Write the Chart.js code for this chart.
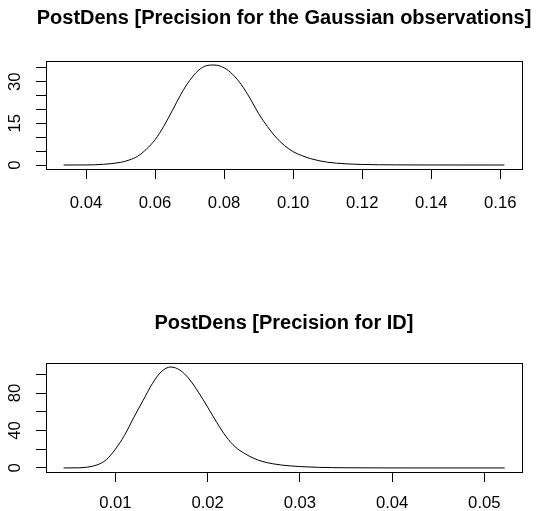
<!DOCTYPE html>
<html><head><meta charset="utf-8">
<script src="https://cdn.jsdelivr.net/npm/chart.js@4.4.1/dist/chart.umd.min.js"></script>
<style>
html,body{margin:0;padding:0;background:#fff;overflow:hidden;}
canvas{position:absolute;left:0;}
</style></head><body>
<canvas id="c1" width="538" height="256" style="top:0;width:538px;height:256px"></canvas>
<canvas id="c2" width="538" height="255" style="top:256px;width:538px;height:255px"></canvas>
<script>
// ---- Panel 1: Precision for the Gaussian observations ----
const title1 = 'PostDens [Precision for the Gaussian observations]';
const x1 = [0.0335, 0.040, 0.045, 0.050, 0.0525, 0.055, 0.0575, 0.060, 0.0625, 0.065, 0.0675, 0.070, 0.0725, 0.075, 0.077, 0.080, 0.0825, 0.085, 0.0875, 0.090, 0.0925, 0.095, 0.0975, 0.100, 0.1025, 0.105, 0.110, 0.115, 0.120, 0.130, 0.140, 0.1612];
const y1 = [0, 0.02, 0.25, 0.95, 1.8, 3.2, 5.7, 9.1, 13.9, 19.6, 25.5, 30.4, 34.0, 35.8, 36.0, 35.0, 32.6, 28.9, 24.0, 18.5, 13.9, 10.0, 7.0, 4.8, 3.4, 2.3, 1.0, 0.45, 0.2, 0.04, 0.01, 0];
const xTicks1 = [0.04, 0.06, 0.08, 0.10, 0.12, 0.14, 0.16];
const xTickLabels1 = ['0.04', '0.06', '0.08', '0.10', '0.12', '0.14', '0.16'];
const yTicks1 = [0, 5, 10, 15, 20, 25, 30, 35];
const yTickLabels1 = ['0', '', '', '15', '', '', '30', ''];
const xRange1 = [0.0284, 0.1663];
const yRange1 = [-1.44, 37.44];

// ---- Panel 2: Precision for ID ----
const title2 = 'PostDens [Precision for ID]';
const x2 = [0.00439, 0.006, 0.007, 0.0075, 0.008, 0.0085, 0.009, 0.010, 0.011, 0.012, 0.013, 0.014, 0.015, 0.016, 0.017, 0.018, 0.019, 0.020, 0.021, 0.022, 0.023, 0.024, 0.025, 0.026, 0.027, 0.028, 0.030, 0.032, 0.035, 0.040, 0.0522];
const y2 = [0, 0.15, 0.9, 1.8, 3.2, 5.4, 8.6, 20, 35, 54, 72, 90, 103, 107.8, 104.5, 95, 81, 65, 48.5, 33.5, 22.5, 15.5, 10.3, 6.8, 4.6, 3.1, 1.5, 0.65, 0.2, 0.03, 0];
const xTicks2 = [0.01, 0.02, 0.03, 0.04, 0.05];
const xTickLabels2 = ['0.01', '0.02', '0.03', '0.04', '0.05'];
const yTicks2 = [0, 20, 40, 60, 80, 100];
const yTickLabels2 = ['0', '', '40', '', '80', ''];
const xRange2 = [0.00248, 0.05408];
const yRange2 = [-4.31, 112.1];

const FONT = '"Liberation Sans", Arial, Helvetica, sans-serif';

const boxPlugin = {
  id: 'rbox',
  afterDraw(chart) {
    const {ctx, chartArea: a} = chart;
    const al = (p) => Math.round(p - 0.5) + 0.5;
    ctx.save();
    ctx.strokeStyle = '#000';
    ctx.lineWidth = 1;
    ctx.strokeRect(al(a.left), al(a.top), al(a.right) - al(a.left), al(a.bottom) - al(a.top));
    ctx.restore();
  }
};

function makeChart(id, cfg) {
  const pts = cfg.xs.map((x, i) => ({x: x, y: cfg.ys[i]}));
  return new Chart(document.getElementById(id), {
    type: 'line',
    data: {datasets: [{data: pts, borderColor: '#000', borderWidth: 1, pointRadius: 0,
      fill: false, cubicInterpolationMode: 'monotone'}]},
    options: {
      responsive: false, animation: false, devicePixelRatio: 1,
      layout: {padding: {left: 0, right: -30, top: 0, bottom: 0}},
      plugins: {
        legend: {display: false}, tooltip: {enabled: false},
        title: {display: true, text: cfg.title, color: '#000', fullSize: true,
          font: {family: FONT, size: 20, weight: 'bold', lineHeight: 1.2},
          padding: {top: cfg.titlePadTop, bottom: cfg.titlePadBottom}}
      },
      scales: {
        x: {
          type: 'linear', position: 'bottom', min: cfg.xRange[0], max: cfg.xRange[1],
          afterBuildTicks: (s) => { s.ticks = cfg.xTicks.map(v => ({value: v})); },
          afterFit: (s) => { s.height = cfg.xAxisH; },
          grid: {drawOnChartArea: false, drawTicks: true, tickLength: 10, color: '#000', lineWidth: 1},
          border: {display: true, color: '#000', width: 1},
          ticks: {autoSkip: false, maxRotation: 0, minRotation: 0, color: '#000', padding: cfg.xPad,
            font: {family: FONT, size: 16.7},
            callback: (v, i) => cfg.xTickLabels[i]}
        },
        y: {
          type: 'linear', position: 'left', min: cfg.yRange[0], max: cfg.yRange[1],
          afterBuildTicks: (s) => { s.ticks = cfg.yTicks.map(v => ({value: v})); },
          afterFit: (s) => { s.width = 46; },
          grid: {drawOnChartArea: false, drawTicks: true, tickLength: 10, color: '#000', lineWidth: 1},
          border: {display: true, color: '#000', width: 1},
          ticks: {autoSkip: false, minRotation: 90, maxRotation: 90, crossAlign: 'center',
            color: '#000', padding: 11.7, font: {family: FONT, size: 16.7},
            callback: (v, i) => cfg.yTickLabels[i]}
        },
        r: {
          type: 'linear', position: 'right', display: true,
          afterFit: (s) => { s.width = 46; },
          grid: {display: false, drawTicks: false}, border: {display: false},
          ticks: {display: false}
        }
      }
    },
    plugins: [boxPlugin]
  });
}

makeChart('c1', {title: title1, xs: x1, ys: y1, xTicks: xTicks1, xTickLabels: xTickLabels1,
  yTicks: yTicks1, yTickLabels: yTickLabels1, xRange: xRange1, yRange: yRange1,
  titlePadTop: 6, titlePadBottom: 31, xAxisH: 87, xPad: 14.3});
makeChart('c2', {title: title2, xs: x2, ys: y2, xTicks: xTicks2, xTickLabels: xTickLabels2,
  yTicks: yTicks2, yTickLabels: yTickLabels2, xRange: xRange2, yRange: yRange2,
  titlePadTop: 55, titlePadBottom: 28, xAxisH: 39, xPad: 11});
</script>
</body></html>
